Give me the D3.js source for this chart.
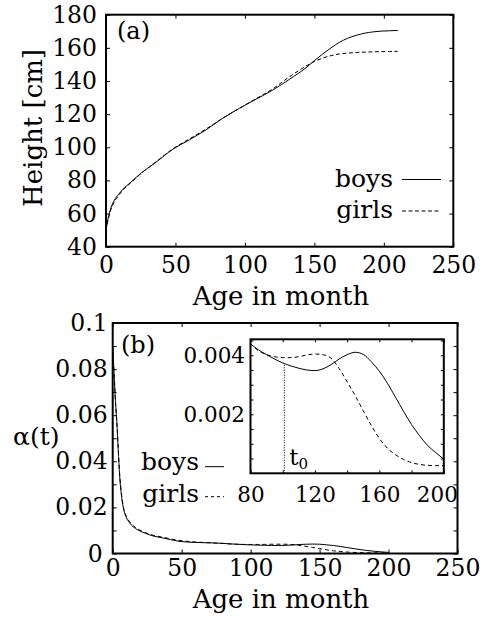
<!DOCTYPE html>
<html><head><meta charset="utf-8">
<script src="https://cdn.jsdelivr.net/npm/d3@7"></script>
<style>
html,body{margin:0;padding:0;background:#fff;}
svg{display:block;font-family:"DejaVu Serif",serif;}
</style></head><body>
<svg id="chart" width="480" height="619"></svg>
<script>
// ---------- data ----------
const seriesNames = ["boys", "girls"];
const heightAges = [0, 1, 3, 6, 9, 12, 18, 24, 36, 48, 60, 72, 84, 96, 108, 120, 132, 144, 150, 156, 162, 168, 174, 180, 186, 192, 198, 204, 210];
const heightBoys = [50, 55, 62, 68, 71.5, 74.5, 79, 83.5, 91, 98.7, 104.5, 110.5, 117.5, 123.5, 129, 134.5, 141, 148, 152.3, 156.3, 160, 163.3, 165.8, 167.5, 168.8, 169.6, 170.1, 170.3, 170.5];
const heightGirls = [49.5, 54, 61, 67, 70.8, 74, 78.7, 83.3, 91.2, 99, 105, 111, 117.5, 123.5, 129.3, 135.2, 142.5, 149, 151.8, 153.8, 155.3, 156.3, 156.8, 157.2, 157.4, 157.6, 157.7, 157.8, 157.9];

const alphaAges = [0, 1, 2, 3, 4, 5, 6, 8, 10, 12, 15, 18, 24, 30, 36, 48, 60, 72,
  80, 85, 90, 95, 100, 105, 110, 115, 120, 125, 130, 135, 140, 145, 150, 155, 160, 165, 170, 175, 180, 185, 190, 195, 200];
const alphaBoys = [0.090, 0.078, 0.066, 0.057, 0.045, 0.034, 0.027, 0.019, 0.0155, 0.0135, 0.0115, 0.0103, 0.0087, 0.0075, 0.0068, 0.0053, 0.0048, 0.0046,
  0.00438, 0.00418, 0.00402, 0.00387, 0.00374, 0.00364, 0.00356, 0.00350, 0.00348, 0.00354, 0.00368, 0.00387, 0.00402, 0.00410, 0.00403, 0.00378, 0.00346, 0.00305, 0.00258, 0.00210, 0.00165, 0.00127, 0.00094, 0.00070, 0.00048];
const alphaGirls = [0.090, 0.078, 0.066, 0.057, 0.046, 0.035, 0.028, 0.0195, 0.016, 0.014, 0.012, 0.0107, 0.009, 0.0078, 0.0071, 0.0057, 0.005, 0.0046,
  0.00438, 0.00415, 0.00402, 0.00395, 0.00392, 0.00392, 0.00395, 0.00401, 0.00404, 0.00402, 0.0039, 0.00355, 0.0031, 0.00263, 0.00212, 0.00162, 0.00118, 0.00085, 0.00063, 0.00047, 0.00036, 0.0003, 0.00027, 0.00026, 0.00026];
const t0 = 101;

const aXTicks = [0, 50, 100, 150, 200, 250];
const aXTickLabels = ["0", "50", "100", "150", "200", "250"];
const aYTicks = [40, 60, 80, 100, 120, 140, 160, 180];
const aYTickLabels = ["40", "60", "80", "100", "120", "140", "160", "180"];
const bXTicks = [0, 50, 100, 150, 200, 250];
const bXTickLabels = ["0", "50", "100", "150", "200", "250"];
const bYTicks = [0, 0.01, 0.02, 0.03, 0.04, 0.05, 0.06, 0.07, 0.08, 0.09, 0.1];
const bYTickLabels = ["0", "", "0.02", "", "0.04", "", "0.06", "", "0.08", "", "0.1"];
const insetXTicks = [80, 100, 120, 140, 160, 180, 200];
const insetXTickLabels = ["80", "", "120", "", "160", "", "200"];
const insetYTicks = [0.0005, 0.001, 0.0015, 0.002, 0.0025, 0.003, 0.0035, 0.004, 0.0045];
const insetYTickLabels = ["", "", "", "0.002", "", "", "", "0.004", ""];

// ---------- drawing ----------
const svg = d3.select("#chart");
const FONT = '"DejaVu Serif", serif';

function drawAxes(g, x, y, cfg) {
  const [x0, x1] = x.range();
  const [y0, y1] = y.range();
  g.append("g").attr("transform", `translate(0,${y0})`)
    .call(d3.axisBottom(x).tickValues(cfg.xTicks).tickSize(-cfg.tick).tickPadding(cfg.xPad)
      .tickFormat((d, i) => cfg.xLabels[i])).attr("class", "xb");
  g.append("g").attr("transform", `translate(0,${y1})`)
    .call(d3.axisTop(x).tickValues(cfg.xTicks).tickSize(-cfg.tick).tickFormat(""));
  g.append("g").attr("transform", `translate(${x0},0)`)
    .call(d3.axisLeft(y).tickValues(cfg.yTicks).tickSize(-cfg.tick).tickPadding(cfg.yPad)
      .tickFormat((d, i) => cfg.yLabels[i])).attr("class", "yl");
  g.append("g").attr("transform", `translate(${x1},0)`)
    .call(d3.axisRight(y).tickValues(cfg.yTicks).tickSize(-cfg.tick).tickFormat(""));
  g.selectAll(".domain").remove();
  g.selectAll(".tick line").attr("stroke", "#000").attr("stroke-width", 1);
  g.selectAll("g").attr("font-family", FONT).attr("font-size", cfg.fontSize);
  g.selectAll(".tick text").attr("fill", "#000");
  g.append("rect").attr("x", x0).attr("y", y1).attr("width", x1 - x0).attr("height", y0 - y1)
    .attr("fill", "none").attr("stroke", "#000").attr("stroke-width", 2);
}

function drawCurves(g, x, y, ages, series, clipId, dashes) {
  const [x0, x1] = x.range();
  const [y0, y1] = y.range();
  svg.append("defs").append("clipPath").attr("id", clipId)
    .append("rect").attr("x", x0).attr("y", y1).attr("width", x1 - x0).attr("height", y0 - y1);
  const line = d3.line().x((d, i) => x(ages[i])).y(d => y(d)).curve(d3.curveMonotoneX);
  const cg = g.append("g").attr("clip-path", `url(#${clipId})`);
  series.forEach((s, k) => {
    cg.append("path").attr("d", line(s)).attr("fill", "none").attr("stroke", "#000")
      .attr("stroke-width", 1).attr("stroke-dasharray", dashes[k]);
  });
}

// ===== Panel (a) =====
const gA = svg.append("g");
const xA = d3.scaleLinear().domain([0, 250]).range([106, 453.3]);
const yA = d3.scaleLinear().domain([40, 180]).range([246.7, 14.7]);
drawCurves(gA, xA, yA, heightAges, [heightBoys, heightGirls], "clipA", [null, "4,2.5"]);
drawAxes(gA, xA, yA, {xTicks: aXTicks, xLabels: aXTickLabels, yTicks: aYTicks, yLabels: aYTickLabels,
  tick: 4, xPad: 10, yPad: 9, fontSize: 23.5});
gA.append("text").attr("x", 117).attr("y", 39).attr("font-size", 24).attr("font-family", FONT).text("(a)");
gA.append("text").attr("transform", "translate(42,128) rotate(-90)").attr("text-anchor", "middle")
  .attr("font-size", 26).attr("font-family", FONT).text("Height [cm]");
gA.append("text").attr("x", 281).attr("y", 305).attr("text-anchor", "middle")
  .attr("font-size", 26).attr("font-family", FONT).text("Age in month");
// legend (a)
[[186.5, 179.5, null], [218, 211, "4,2.5"]].forEach((p, k) => {
  gA.append("text").attr("x", 393).attr("y", p[0]).attr("text-anchor", "end")
    .attr("font-size", 25).attr("font-family", FONT).text(seriesNames[k]);
  gA.append("line").attr("x1", 402).attr("x2", 441).attr("y1", p[1]).attr("y2", p[1])
    .attr("stroke", "#000").attr("stroke-width", 1).attr("stroke-dasharray", p[2]);
});

// ===== Panel (b) =====
const gB = svg.append("g");
const xB = d3.scaleLinear().domain([0, 250]).range([112.7, 457.5]);
const yB = d3.scaleLinear().domain([0, 0.1]).range([553.5, 323]);
drawCurves(gB, xB, yB, alphaAges, [alphaBoys, alphaGirls], "clipB", [null, "4,3"]);
drawAxes(gB, xB, yB, {xTicks: bXTicks, xLabels: bXTickLabels, yTicks: bYTicks, yLabels: bYTickLabels,
  tick: 4, xPad: 6, yPad: 5, fontSize: 23.5});
gB.select(".yl .tick text").attr("dx", -5);
gB.append("text").attr("x", 121).attr("y", 353).attr("font-size", 24).attr("font-family", FONT).text("(b)");
gB.append("text").attr("x", 13).attr("y", 445).attr("font-size", 25).attr("font-family", FONT).text("α(t)");
gB.append("text").attr("x", 281).attr("y", 608).attr("text-anchor", "middle")
  .attr("font-size", 26).attr("font-family", FONT).text("Age in month");
[[470, 466.7, null], [502, 496.7, "3,3"]].forEach((p, k) => {
  gB.append("text").attr("x", 199).attr("y", p[0]).attr("text-anchor", "end")
    .attr("font-size", 25).attr("font-family", FONT).text(seriesNames[k]);
  gB.append("line").attr("x1", 205).attr("x2", 224).attr("y1", p[1]).attr("y2", p[1])
    .attr("stroke", "#000").attr("stroke-width", 1).attr("stroke-dasharray", p[2]);
});

// ===== Inset =====
const gI = svg.append("g");
const xI = d3.scaleLinear().domain([80, 200]).range([250.5, 443.8]);
const yI = d3.scaleLinear().domain([0, 0.00454]).range([473.3, 339.3]);
gI.append("rect").attr("x", 250.5).attr("y", 339.3).attr("width", 443.8 - 250.5).attr("height", 473.3 - 339.3).attr("fill", "#fff");
drawCurves(gI, xI, yI, alphaAges, [alphaBoys, alphaGirls], "clipI", [null, "4,3"]);
const t0Val = d3.scaleLinear().domain(alphaAges).range(alphaBoys)(t0);
gI.append("line").attr("x1", xI(t0)).attr("x2", xI(t0)).attr("y1", yI(0)).attr("y2", yI(t0Val))
  .attr("stroke", "#000").attr("stroke-width", 1).attr("stroke-dasharray", "1,1.5");
drawAxes(gI, xI, yI, {xTicks: insetXTicks, xLabels: insetXTickLabels, yTicks: insetYTicks, yLabels: insetYTickLabels,
  tick: 3, xPad: 13, yPad: 5.5, fontSize: 21.5});
gI.selectAll(".xb .tick text").filter((d, i) => i === insetXTicks.length - 1).attr("dx", -7);
const t0Text = gI.append("text").attr("x", xI(t0) + 5).attr("y", 465).attr("font-size", 23).attr("font-family", FONT);
t0Text.append("tspan").text("t");
t0Text.append("tspan").attr("font-size", 15).attr("dy", 4).text("0");
</script>
</body></html>
